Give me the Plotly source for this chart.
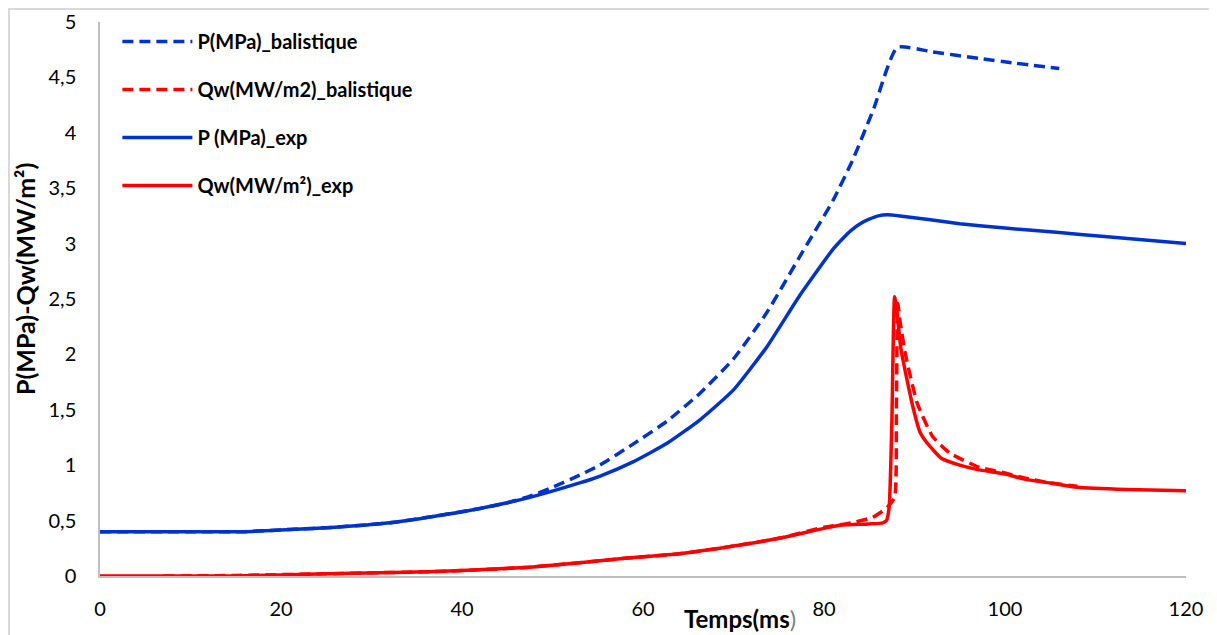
import plotly.graph_objects as go

# ---- data ----
t_p_bal = [0, 10, 16, 21, 26, 32, 37, 42, 45, 47.5, 50, 53, 55.2, 58.9, 62.7, 66.3, 70, 73.7,
           77.3, 81, 83.2, 85.5, 88.1, 92, 97.2, 101, 106]
p_bal = [0.40, 0.40, 0.40, 0.42, 0.44, 0.48, 0.54, 0.61, 0.66, 0.72, 0.80, 0.91, 1.00, 1.19,
         1.40, 1.65, 1.96, 2.38, 2.88, 3.39, 3.76, 4.22, 4.77, 4.73, 4.67, 4.63, 4.58]

t_q_bal = [7, 15, 25, 31, 37, 43, 47.5, 53, 58, 64, 70, 75, 80, 83, 85.4, 87, 87.8, 88.0,
           88.15, 88.4, 89.0, 90.3, 92, 93.9, 97.2, 100, 102.4, 105, 108]
q_bal = [0.0, 0.005, 0.02, 0.03, 0.04, 0.06, 0.08, 0.12, 0.16, 0.20, 0.27, 0.34, 0.44, 0.48,
         0.53, 0.62, 0.71, 1.50, 2.46, 2.30, 2.00, 1.56, 1.26, 1.11, 0.98, 0.93, 0.88, 0.84, 0.81]

t_p_exp = [0, 10, 16, 21, 26, 32, 37, 42, 47.5, 53, 55.2, 58.9, 62.7, 66.3, 70, 73.7, 77.3,
           81, 82, 83, 84, 85, 86, 87, 88.4, 95, 100, 106, 110, 120]
p_exp = [0.40, 0.40, 0.40, 0.42, 0.44, 0.48, 0.54, 0.61, 0.71, 0.84, 0.90, 1.03, 1.20, 1.41,
         1.68, 2.07, 2.53, 2.95, 3.04, 3.12, 3.18, 3.22, 3.25, 3.26, 3.25, 3.18, 3.14, 3.10,
         3.07, 3.00]

t_q_exp = [0, 15, 25, 31, 37, 43, 47.5, 53, 58, 64, 70, 75, 80, 82, 85, 86.5, 86.9, 87.2,
           87.5, 87.8, 88.1, 88.5, 89.1, 89.9, 90.6, 91.4, 93, 95, 97, 100, 102.4, 105, 108,
           113.5, 120]
q_exp = [0.0, 0.0, 0.02, 0.03, 0.04, 0.06, 0.08, 0.12, 0.16, 0.20, 0.27, 0.34, 0.43, 0.46,
         0.47, 0.48, 0.50, 0.62, 1.40, 2.52, 2.35, 2.05, 1.80, 1.50, 1.30, 1.20, 1.06, 1.00,
         0.96, 0.92, 0.87, 0.84, 0.80, 0.78, 0.77]

names = ["P(MPa)_balistique", "Qw(MW/m2)_balistique", "P (MPa)_exp", "Qw(MW/m²)_exp"]
BLUE = "#0033CC"
RED = "#FF0000"
DASH = "11px,6px"

fig = go.Figure()
series = [
    (t_p_bal, p_bal, BLUE, DASH),
    (t_q_bal, q_bal, RED, DASH),
    (t_p_exp, p_exp, BLUE, "solid"),
    (t_q_exp, q_exp, RED, "solid"),
]
for i, (xs, ys, c, d) in enumerate(series):
    fig.add_trace(go.Scatter(
        x=xs, y=ys, mode="lines", name=names[i], legendgroup=f"g{i}",
        line=dict(color=c, width=3.5, dash=d, shape="spline", smoothing=0.5),
    ))

font_family = "Lato, 'Open Sans', sans-serif"

# page has an 8px body margin: figure is sized so the plot area sits at
# page x 100..1186, y 22..576 like the reference
fig.update_layout(
    width=1209, height=627,
    margin=dict(l=92, r=31, t=14, b=59, autoexpand=False),
    paper_bgcolor="white", plot_bgcolor="white",
    separators=", ",
    font=dict(family=font_family, color="black", size=20),
    showlegend=True,
    legend=dict(
        x=0.016, y=1.0, xanchor="left", yanchor="top",
        font=dict(family=font_family, size=20, color="black", weight="bold"),
        bgcolor="rgba(0,0,0,0)", itemwidth=70, tracegroupgap=19,
        traceorder="grouped",
    ),
    xaxis=dict(
        range=[0, 120], dtick=20, tick0=0, showgrid=False, zeroline=False,
        showline=True, linecolor="#BFBFBF", linewidth=1.5, ticks="",
        ticklabelstandoff=14, automargin=False,
        tickfont=dict(family=font_family, size=20, color="black"),
    ),
    yaxis=dict(
        range=[0, 5], dtick=0.5, tick0=0, showgrid=False, zeroline=False,
        showline=True, linecolor="#BFBFBF", linewidth=1.5, ticks="",
        ticklabelstandoff=18, automargin=False,
        tickfont=dict(family=font_family, size=20, color="black"),
    ),
)

# y-axis title (placed like the reference, slightly above centre)
fig.add_annotation(
    xref="paper", yref="paper", x=(25 - 100) / 1086, y=(576 - 279) / 554,
    xanchor="center", yanchor="middle", textangle=-90,
    text="<b>P(MPa)-Qw(MW/m²)</b>", showarrow=False,
    font=dict(family=font_family, size=25, color="black"),
)

# x-axis title
fig.add_annotation(
    xref="paper", yref="paper", x=(740 - 100) / 1086, y=-(618 - 576) / 554,
    xanchor="center", yanchor="middle",
    text="<b>Temps(ms</b><span style='color:#7F7F7F'>)</span>", showarrow=False,
    font=dict(family=font_family, size=24, color="black"),
)

# chart border (Excel-style frame)
fig.add_shape(type="rect", xref="paper", yref="paper",
              x0=(9 - 100) / 1086, y0=-0.12, x1=1.03, y1=(576 - 9) / 554,
              line=dict(color="#D9D9D9", width=2), layer="below")

fig.write_html("out.html")
